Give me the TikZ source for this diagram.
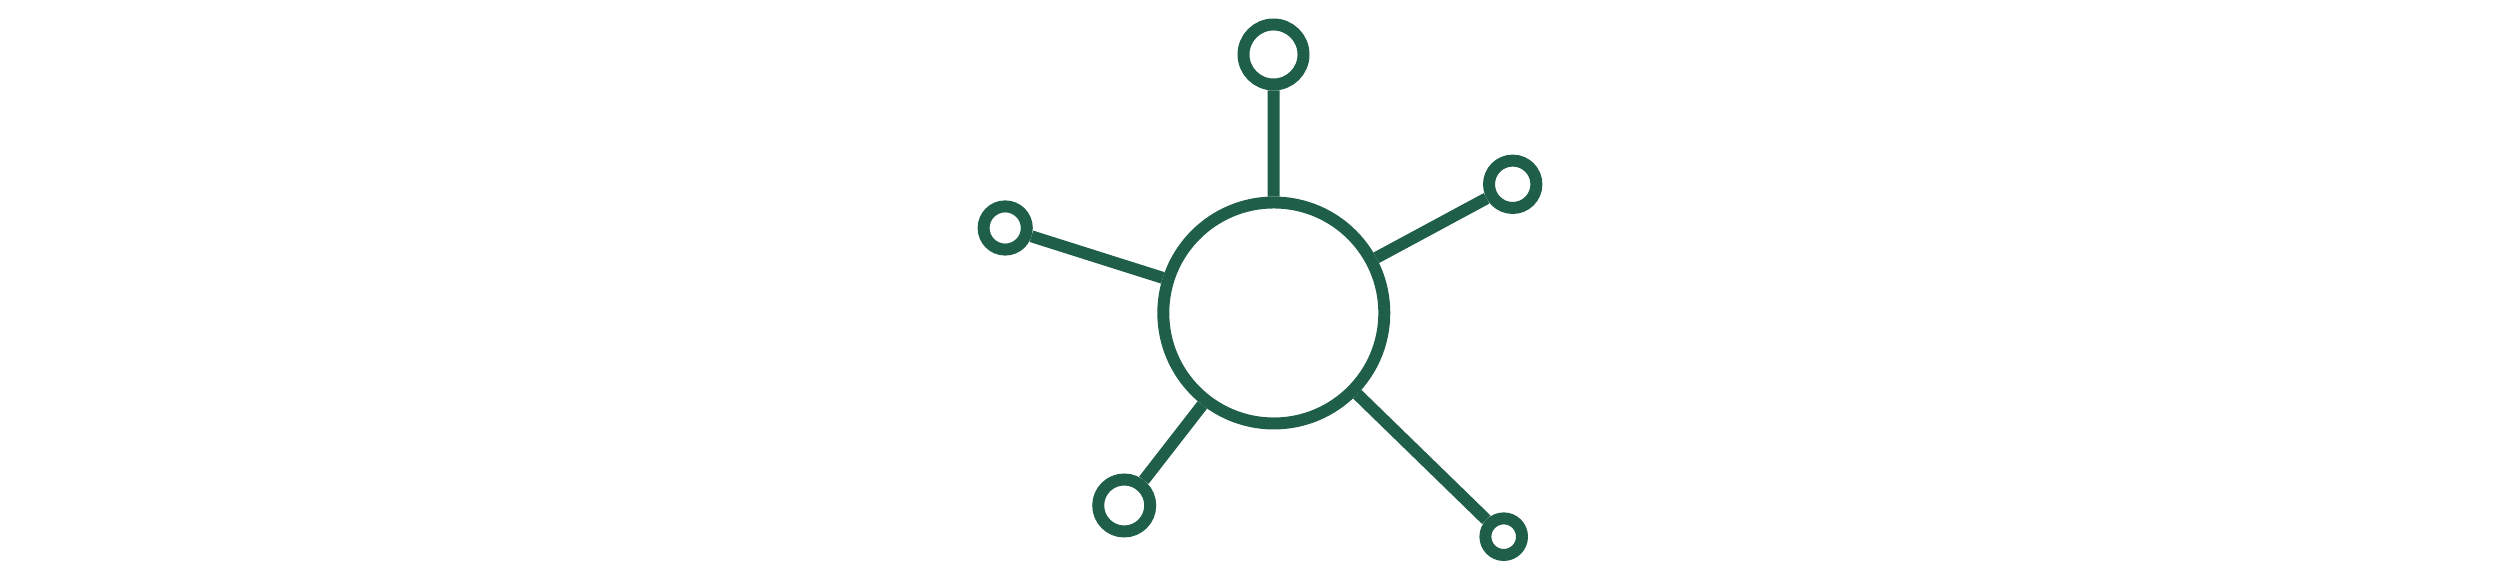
\documentclass[tikz,border=0pt]{standalone}
\usepackage{tikz}
\usetikzlibrary{shapes}
\usepackage{color}
\definecolor{hubgreen}{RGB}{31,95,73}
\tikzstyle{ring}=[circle, draw=hubgreen, line width=3.4pt, inner sep=0pt, fill=white]
\tikzstyle{hub}=[ring, minimum size=2.21cm]
\tikzstyle{link}=[draw=hubgreen, line width=3.4pt]

\begin{document}
\begin{tikzpicture}
    \useasboundingbox (0,0) rectangle (25,5.81);
    % centre circle
    \node[hub] (core) at (12.738,2.68) {};

    % outer circles
    \node[ring, minimum size=0.60cm] (top) at (12.735,5.265) {};
    \node[ring, minimum size=0.432cm] (left) at (10.052,3.53) {};
    \node[ring, minimum size=0.52cm] (lowleft) at (11.242,0.755) {};
    \node[ring, minimum size=0.474cm] (upright) at (15.127,3.967) {};
    \node[ring, minimum size=0.366cm] (lowright) at (15.037,0.443) {};

    % spokes
    \foreach \s in {top, left, lowleft, upright, lowright}{
      \draw[link] (core) -- (\s);
    }
  \end{tikzpicture}
\end{document}
